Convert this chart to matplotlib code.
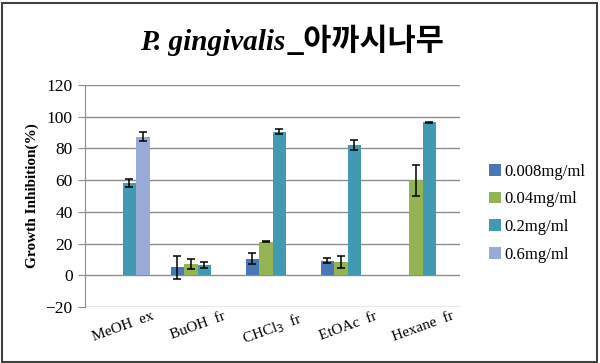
import numpy as np
import matplotlib
matplotlib.use("Agg")
import matplotlib.pyplot as plt
from matplotlib.patches import Rectangle

# data
categories = ["MeOH  ex", "BuOH  fr", "CHCl$_3$  fr", "EtOAc  fr", "Hexane  fr"]
series = ["0.008mg/ml", "0.04mg/ml", "0.2mg/ml", "0.6mg/ml"]
v_008 = [np.nan, 5.0, 10.4, 9.3, np.nan]
v_04 = [np.nan, 7.3, 21.3, 8.5, 59.8]
v_2 = [58.3, 6.5, 90.5, 82.0, 96.5]
v_6 = [87.5, np.nan, np.nan, np.nan, np.nan]
e_008 = [0, 7.0, 3.4, 1.5, 0]
e_04 = [0, 3.3, 0.5, 4.0, 9.8]
e_2 = [2.6, 2.1, 1.6, 3.3, 0.3]
e_6 = [3.0, 0, 0, 0, 0]

colors = ["#4a78b4", "#94b352", "#4499b2", "#97abd6"]
values = [v_008, v_04, v_2, v_6]
errors = [e_008, e_04, e_2, e_6]

serif = "Liberation Serif"

fig = plt.figure(figsize=(6, 3.63), dpi=100)
ax = fig.add_axes([0.142, 0.154, 0.625, 0.612])

x = np.arange(len(categories))
w = 0.18
for i in range(4):
    pos = x + (i - 1.5) * w
    vals = np.array(values[i])
    errs = np.array(errors[i], dtype=float)
    errs[np.isnan(vals)] = np.nan
    ax.bar(pos, vals, w, color=colors[i], label=series[i], zorder=3)
    ax.errorbar(pos, vals, yerr=errs, fmt="none", ecolor="black",
                elinewidth=1.1, capsize=3, capthick=1.1, zorder=4)

ax.set_xlim(-0.5, len(categories) - 0.5)
ax.set_ylim(-20, 120)
ax.set_yticks(range(-20, 121, 20))
ax.yaxis.grid(True, color="#8c8c8c", linewidth=1.0, zorder=0)
ax.set_axisbelow(True)
for s in ["top", "right", "bottom"]:
    ax.spines[s].set_visible(False)
ax.spines["left"].set_color("#8c8c8c")
ax.tick_params(axis="y", length=5, color="#8c8c8c", labelsize=12.5, pad=4)
ax.tick_params(axis="x", length=0, labelsize=11, pad=2)
for lab in ax.get_yticklabels():
    lab.set_fontfamily(serif)
ax.set_xticks(x)
ax.set_xticklabels(categories, rotation=20, fontfamily=serif, ha="center")
ax.set_ylabel("Growth Inhibition(%)", fontfamily=serif, fontweight="bold",
              fontsize=11, labelpad=5)

leg = ax.legend(loc="upper left", bbox_to_anchor=(0.79, 0.59),
                bbox_transform=fig.transFigure, frameon=False,
                handlelength=0.7, handleheight=0.7, handletextpad=0.2,
                labelspacing=0.7, prop={"family": serif, "size": 12})

# title in two fonts
fig.text(0.233, 0.862, "P. gingivalis", fontfamily=serif, fontstyle="italic",
         fontweight="bold", fontsize=21, va="baseline")
fig.text(0.478, 0.862, "_아까시나무", fontfamily="Noto Sans CJK KR",
         fontweight="bold", fontsize=22, va="baseline")

# outer frame
fig.patches.append(Rectangle((0.003, 0.003), 0.992, 0.99, transform=fig.transFigure,
                             fill=False, edgecolor="#404040", linewidth=1.5))

fig.savefig("out.png", dpi=100)
